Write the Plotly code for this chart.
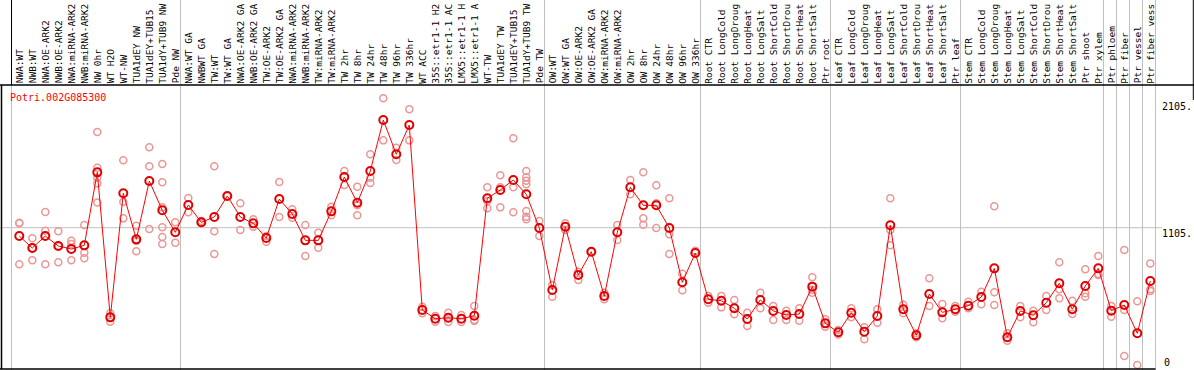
import plotly.graph_objects as go

labels = ["NWA:WT", "NWB:WT", "NWA:OE-ARK2", "NWB:OE-ARK2", "NWA:miRNA-ARK2", "NWB:miRNA-ARK2",
          "NW 0hr", "WT H2O", "WT-NW", "TUA1dEY NW", "TUA1dEY+TUB15", "TUA1dY+TUB9 NW", "Pde NW",
          "NWA:WT GA", "NWBWT GA", "TW:WT", "TW:WT GA", "NWA:OE-ARK2 GA", "NWB:OE-ARK2 GA",
          "TW:OE-ARK2", "TW:OE-ARK2 GA", "NWA:miRNA-ARK2", "NWB:miRNA-ARK2", "TW:miRNA-ARK2",
          "TW:miRNA-ARK2", "TW 2hr", "TW 8hr", "TW 24hr", "TW 48hr", "TW 96hr", "TW 336hr",
          "WT ACC", "35S::etr1-1 H2", "35S::etr1-1 AC", "LMX5::etr1-1 H", "LMX5::etr1-1 A",
          "WT-TW", "TUA1dEY TW", "TUA1dEY+TUB15", "TUA1dY+TUB9 TW", "Pde TW",
          "OW:WT", "OW:WT GA", "OW:OE-ARK2", "OW:OE-ARK2 GA", "OW:miRNA-ARK2", "OW:miRNA-ARK2",
          "OW 2hr", "OW 8hr", "OW 24hr", "OW 48hr", "OW 96hr", "OW 336hr",
          "Root CTR", "Root LongCold", "Root LongDroug", "Root LongHeat", "Root LongSalt",
          "Root ShortCold", "Root ShortDrou", "Root ShortHeat", "Root ShortSalt", "Ptr root",
          "Leaf CTR", "Leaf LongCold", "Leaf LongDroug", "Leaf LongHeat", "Leaf LongSalt",
          "Leaf ShortCold", "Leaf ShortDrou", "Leaf ShortHeat", "Leaf ShortSalt", "Ptr leaf",
          "Stem CTR", "Stem LongCold", "Stem LongDroug", "Stem LongHeat", "Stem LongSalt",
          "Stem ShortCold", "Stem ShortDrou", "Stem ShortHeat", "Stem ShortSalt", "Ptr shoot",
          "Ptr xylem", "Ptr phloem", "Ptr fiber", "Ptr vessel", "Ptr fiber vess"]

means = [1040, 946, 1040, 962, 938, 967, 1538, 404, 1374, 1014,
         1470, 1241, 1069, 1283, 1147, 1189, 1353, 1189, 1139, 1024,
         1329, 1212, 1006, 1006, 1233, 1501, 1300, 1548, 1947, 1679,
         1908, 461, 393, 401, 393, 417, 1335, 1400, 1478, 1366,
         1103, 618, 1113, 735, 917, 571, 1069, 1421, 1280, 1280,
         1103, 678, 907, 545, 534, 475, 391, 540, 454, 422,
         430, 644, 357, 287, 440, 292, 414, 1124, 467, 264,
         587, 443, 467, 495, 563, 787, 248, 454, 420, 518,
         670, 467, 649, 787, 456, 500, 279, 688]

replicates = [
    [1144, 1140, 819], [1022, 946, 850], [1228, 1082, 819], [1077, 962, 834], [1003, 977, 850],
    [1126, 909, 866], [1853, 1574, 1496, 1452, 1303], [436, 370], [1632, 1308, 1178], [1121, 1001, 920],
    [1734, 1585, 1095], [1603, 1460, 1264, 1108, 1032, 977], [1147, 988], [1337, 1225], [1157, 1139],
    [1585, 1077, 899], [1353], [1296, 1087], [1171, 1113], [1040, 995],
    [1462, 1189], [1249, 1183], [1126, 884], [1066, 949], [1269, 1202],
    [1548, 1439], [1426, 1280, 1202], [1679, 1496, 1455], [2117, 1788], [1731, 1634],
    [2031, 1788], [487, 436], [414, 370], [440, 368], [422, 368],
    [493, 383, 376], [1421, 1314, 1257], [1515, 1421, 1264], [1804, 1421, 1225],
    [1548, 1499, 1473, 1444, 1236, 1191, 1171],
    [1157, 1040], [657, 565], [1139, 1087], [761, 696], [917],
    [597, 545], [1126, 1009], [1478, 1366], [1538, 1178, 1128], [1437, 1296, 1103],
    [1335, 1053, 899], [745, 615], [925], [571, 518], [571, 482],
    [540, 428], [440, 336], [597, 475], [493, 383], [456, 383],
    [475, 378], [717, 620, 597], [389, 331], [305, 270], [475, 404],
    [326, 232], [467, 362], [1335, 1087, 967], [503, 436], [279, 248],
    [709, 493], [508, 396], [493, 448], [526, 475], [604, 506],
    [1272, 600, 500], [279, 221], [493, 404], [456, 365], [571, 461],
    [834, 623, 553], [534, 430], [780, 592, 565], [884, 742, 735], [493, 409],
    [930, 461, 102], [529, 31], [826, 623, 610]]

group_starts = [0, 13, 41, 53, 63, 73, 84, 85, 86, 87, 88]
gene_id = "Potri.002G085300"
ytick_values = [2105, 1105, 0]
ytick_labels = ["2105.", "1105.", "0"]

W, H = 1194, 370
STEP = 13.0
X0_PX = 19.3
x_lo = -X0_PX / STEP
x_hi = x_lo + W / STEP
K = 0.12787  # px per unit
y_hi = 369 / K
y_lo = -1 / K


def px_x(p):
    return p / W


def px_y(p):
    return 1 - p / H


xs = list(range(len(labels)))
rep_x, rep_y = [], []
for i, reps in enumerate(replicates):
    for v in reps:
        rep_x.append(i)
        rep_y.append(v)

fig = go.Figure()
fig.add_trace(go.Scatter(x=rep_x, y=rep_y, mode="markers",
                         marker=dict(symbol="circle-open", size=7, color="rgb(236,150,150)",
                                     line=dict(width=1.5, color="rgb(236,150,150)")),
                         hoverinfo="skip", showlegend=False))
fig.add_trace(go.Scatter(x=xs, y=means, mode="lines+markers",
                         line=dict(color="#ff0000", width=1),
                         marker=dict(symbol="circle-open", size=8, color="#e00000",
                                     line=dict(width=2, color="#e00000")),
                         showlegend=False))

shapes = []
grey = "#c0c0c0"
for g in group_starts:
    shapes.append(dict(type="line", xref="x", yref="paper", x0=g - 0.6, x1=g - 0.6, y0=0, y1=1,
                       line=dict(color=grey, width=1), layer="below"))
# horizontal gridline at mid value
shapes.append(dict(type="line", xref="paper", yref="y", x0=0, x1=px_x(1162), y0=ytick_values[1], y1=ytick_values[1],
                   line=dict(color=grey, width=1), layer="below"))
black = "#000000"
# header frame
shapes.append(dict(type="line", xref="paper", yref="paper", x0=0, x1=1, y0=px_y(85), y1=px_y(85),
                   line=dict(color=black, width=1.5)))
shapes.append(dict(type="line", xref="x", yref="paper", x0=-0.6, x1=-0.6, y0=px_y(85), y1=1,
                   line=dict(color=black, width=1)))
shapes.append(dict(type="line", xref="paper", yref="paper", x0=px_x(1193.3), x1=px_x(1193.3), y0=px_y(100), y1=1,
                   line=dict(color=black, width=1)))
# plot frame
shapes.append(dict(type="line", xref="paper", yref="paper", x0=px_x(1.5), x1=px_x(1.5), y0=px_y(369), y1=px_y(85),
                   line=dict(color=black, width=1.5)))
shapes.append(dict(type="line", xref="paper", yref="paper", x0=0, x1=px_x(1155.5), y0=px_y(369), y1=px_y(369),
                   line=dict(color=black, width=1.5)))

annotations = []
mono = "DejaVu Sans Mono"
for i, lab in enumerate(labels):
    annotations.append(dict(x=i, y=px_y(84.5), xref="x", yref="paper", text=lab, textangle=-90,
                            xanchor="center", yanchor="bottom", showarrow=False, borderpad=0,
                            font=dict(family=mono, size=9.5, color="black")))
annotations.append(dict(x=px_x(9), y=px_y(97), xref="paper", yref="paper", text=gene_id,
                        xanchor="left", yanchor="middle", showarrow=False, borderpad=0,
                        font=dict(family=mono, size=10, color="#ff0000")))
for lab, cy in zip(ytick_labels[:2], [107, 233]):
    annotations.append(dict(x=px_x(1193), y=px_y(cy), xref="paper", yref="paper", text=lab,
                            xanchor="right", yanchor="middle", showarrow=False, borderpad=0,
                            font=dict(family=mono, size=10, color="black")))
annotations.append(dict(x=px_x(1163), y=px_y(362), xref="paper", yref="paper", text=ytick_labels[2],
                        xanchor="left", yanchor="middle", showarrow=False, borderpad=0,
                        font=dict(family=mono, size=10, color="black")))

fig.update_layout(width=W, height=H, autosize=False,
                  margin=dict(l=0, r=0, t=0, b=0, pad=0),
                  paper_bgcolor="white", plot_bgcolor="white",
                  xaxis=dict(range=[x_lo, x_hi], visible=False, fixedrange=True),
                  yaxis=dict(range=[y_lo, y_hi], visible=False, fixedrange=True),
                  shapes=shapes, annotations=annotations, showlegend=False)

fig.write_html("out.html", config={"displayModeBar": False},
               post_script="document.body.style.margin='0';document.body.style.overflow='hidden';")
